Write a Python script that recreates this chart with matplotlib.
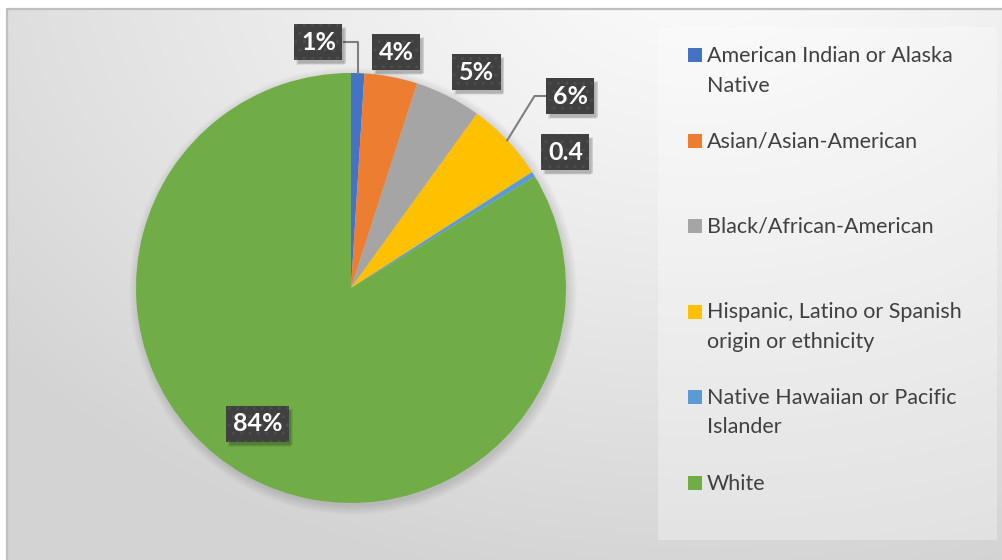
import numpy as np
import matplotlib
matplotlib.use("Agg")
import matplotlib.pyplot as plt
from matplotlib.patches import Rectangle, Circle

# race / ethnicity breakdown, percent
categories = ["American Indian or Alaska\nNative",
              "Asian/Asian-American",
              "Black/African-American",
              "Hispanic, Latino or Spanish\norigin or ethnicity",
              "Native Hawaiian or Pacific\nIslander",
              "White"]
values = [1, 4, 5, 6, 0.4, 84]
value_labels = ["1%", "4%", "5%", "6%", "0.4", "84%"]
colors = ["#4472C4", "#ED7D31", "#A5A5A5", "#FFC000", "#5B9BD5", "#70AD47"]

W, H = 1002, 560
CX, CY, R = 351, H - 288, 215

# label box centres (pixel coords, y up) and which ones get a leader line
label_pos = [(318.5, H - 42), (396.5, H - 52), (476.5, H - 72),
             (570.5, H - 96), (565.5, H - 152), (257.5, H - 423.5)]
leaders = {0: "vertical", 3: "elbow"}

fig = plt.figure(figsize=(W / 100, H / 100), dpi=100)
fig.patch.set_facecolor("white")

# background gradient of the chart area
bg = fig.add_axes([0, 0, 1, 1])
bg.set_axis_off()
yy, xx = np.mgrid[0:H, 0:W]
d = np.hypot(xx - 700, (yy + 50) * 1.4) / 900
shade = 0.985 - 0.155 * np.clip(d, 0, 1) ** 1.2
bg.imshow(np.dstack([shade] * 3), extent=(0, W, H, 0), aspect="auto")
bg.set_xlim(0, W)
bg.set_ylim(H, 0)
bg.add_patch(Rectangle((0, 0), W, 8, color="white", lw=0))
bg.add_patch(Rectangle((0, 0), 6, H, color="white", lw=0))
bg.plot([7, 7, W], [H, 9, 9], color="#bfbfbf", lw=1.6)

ax = fig.add_axes([0, 0, 1, 1])
ax.set_axis_off()
ax.patch.set_alpha(0)

# soft shadow under the pie
for i in range(10):
    ax.add_patch(Circle((CX + 2, CY - 3), R + 9 - i, color="black",
                        alpha=0.012, lw=0))

wedges, _ = ax.pie(values, colors=colors, startangle=90, counterclock=False,
                   center=(CX, CY), radius=R,
                   wedgeprops=dict(linewidth=0))
ax.set_xlim(0, W)
ax.set_ylim(0, H)
ax.set_aspect("equal")

# leader lines from slice edge to label box
for i, kind in leaders.items():
    w = wedges[i]
    mid = np.deg2rad((w.theta1 + w.theta2) / 2)
    ex, ey = CX + R * np.cos(mid), CY + R * np.sin(mid)
    bx, by = label_pos[i]
    if kind == "vertical":
        xs = [ex, ex, bx + 26]
        ys = [ey, by, by]
    else:
        xs = [ex, bx - 36, bx - 25]
        ys = [ey, by, by]
    ax.plot(xs, ys, color="#7f7f7f", lw=1.5, zorder=3)

labels = []
for (x, y), txt in zip(label_pos, value_labels):
    t = ax.text(x, y, txt, ha="center", va="center", fontsize=18,
                fontweight="bold", family="Lato", color="white",
                bbox=dict(boxstyle="square,pad=0.26", fc="#404040",
                          ec="#4e4e4e", lw=0, hatch=".."), zorder=5)
    labels.append(t)

# drop shadows behind the label boxes
fig.canvas.draw()
inv = ax.transData.inverted()
for t in labels:
    ext = t.get_bbox_patch().get_window_extent()
    (x0, y0), (x1, y1) = inv.transform([[ext.x0, ext.y0], [ext.x1, ext.y1]])
    for k in range(4):
        ax.add_patch(Rectangle((x0 + 2 + k * 0.6, y0 - 5 + k * 0.6),
                               x1 - x0, y1 - y0, fc="black", alpha=0.07,
                               lw=0, zorder=4))

# legend panel
ax.add_patch(Rectangle((658, H - 540), 339, 513, fc="white", alpha=0.3,
                       lw=0, zorder=1))
baselines = [62, 147.5, 232.5, 318.5, 403.5, 489.5]
for lab, col, base in zip(categories, colors, baselines):
    ax.add_patch(Rectangle((688, H - base), 14, 14, fc=col, lw=0, zorder=6))
    for k, line in enumerate(lab.split("\n")):
        ax.text(707, H - base - 29.5 * k, line, ha="left", va="baseline",
                fontsize=15.5, family="Lato", color="#404040", zorder=6)

fig.savefig("out.png", dpi=100)
